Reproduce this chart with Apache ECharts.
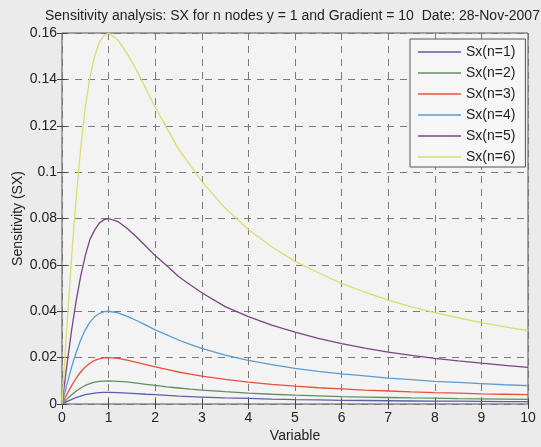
<!DOCTYPE html>
<html><head><meta charset="utf-8">
<script src="https://cdn.jsdelivr.net/npm/echarts@6/dist/echarts.min.js"></script>
<style>html,body{margin:0;padding:0;background:#ebebeb;}#c{width:541px;height:447px;}</style>
</head><body><div id="c"></div>
<script>
var xs  = [0,0.1,0.2,0.3,0.4,0.5,0.6,0.7,0.8,0.9,1,1.2,1.4,1.6,1.8,2,2.25,2.5,2.75,3,3.5,4,4.5,5,5.5,6,6.5,7,7.5,8,8.5,9,9.5,10];
var sx1 = [0,.001,.0019,.0028,.0034,.004,.0044,.0047,.0049,.005,.005,.0049,.0047,.0045,.0042,.004,.0037,.0034,.0032,.003,.0026,.0024,.0021,.0019,.0018,.0016,.0015,.0014,.0013,.0012,.0012,.0011,.0010,.001];
var sx2 = [0,.002,.0039,.0055,.0069,.008,.0088,.0094,.0098,.0099,.01,.0098,.0095,.009,.0085,.008,.0074,.0069,.0064,.006,.0053,.0047,.0042,.0038,.0035,.0032,.003,.0028,.0026,.0025,.0023,.0022,.0021,.002];
var sx3 = [0,.004,.0077,.011,.0138,.016,.0176,.0188,.0195,.0199,.02,.0197,.0189,.018,.017,.016,.0149,.0138,.0129,.012,.0106,.0094,.0085,.0077,.007,.0065,.006,.0056,.0052,.0049,.0047,.0044,.0042,.004];
var sx4 = [0,.008,.0155,.022,.0276,.032,.0353,.0376,.039,.0398,.04,.0393,.0378,.036,.034,.032,.0298,.0276,.0257,.024,.0211,.0188,.017,.0154,.0141,.013,.0121,.0112,.0105,.0098,.0093,.0088,.0083,.0079];
var sx5 = [0,.016,.031,.044,.055,.064,.071,.075,.078,.0795,.08,.0787,.0757,.072,.068,.064,.0596,.055,.0514,.048,.042,.0377,.034,.031,.0283,.026,.0241,.0224,.021,.0197,.0186,.0176,.0167,.0158];
var sx6 = [0,.032,.0615,.088,.110,.128,.141,.150,.156,.159,.16,.157,.151,.144,.136,.128,.119,.110,.103,.096,.0845,.0753,.0678,.0615,.0566,.052,.0482,.0448,.0419,.0394,.0372,.0351,.0333,.0317];
var names = ['Sx(n=1)','Sx(n=2)','Sx(n=3)','Sx(n=4)','Sx(n=5)','Sx(n=6)'];
var colors = ['#5a5fa8','#5e8f5e','#e8503c','#5b9bd0','#7b4482','#dadd72'];
var allY = [sx1,sx2,sx3,sx4,sx5,sx6];

var font = 'Liberation Sans, Arial, sans-serif';
var series = allY.map(function(ys,i){
  return {name:names[i], type:'line', symbol:'none', smooth:false,
    lineStyle:{color:colors[i], width:1.3}, itemStyle:{color:colors[i]},
    data: xs.map(function(x,j){return [x, ys[j]];}), z:3};
});
var chart = echarts.init(document.getElementById('c'));
chart.setOption({
  backgroundColor:'#ebebeb',
  animation:false,
  title:{text:'Sensitivity analysis: SX for n nodes y = 1 and Gradient = 10  Date: 28-Nov-2007',
    left:40, top:4, textStyle:{fontFamily:font, fontSize:14, fontWeight:'normal', color:'#222'}},
  grid:{left:62, right:13, top:33, bottom:43, containLabel:false, outerBoundsMode:'none',
    show:true, backgroundColor:'#f3f3f3', borderColor:'#555', borderWidth:1},
  legend:{orient:'vertical', left:410, top:39, data:names, icon:'rect',
    backgroundColor:'#f6f6f6', borderColor:'#555', borderWidth:1, padding:[6,10,3,8], itemGap:7,
    itemWidth:43, itemHeight:1.5, textStyle:{fontFamily:font, fontSize:14, lineHeight:14, color:'#222'}},
  xAxis:[{type:'value', min:0, max:10, interval:1, name:'Variable', nameLocation:'middle', nameGap:25,
    nameMoveOverlap:false,
    nameTextStyle:{fontFamily:font, fontSize:14, color:'#222'},
    axisLine:{show:false}, axisTick:{inside:true, length:5, lineStyle:{color:'#444'}},
    axisLabel:{fontFamily:font, fontSize:14, color:'#222', margin:7},
    splitLine:{show:true, lineStyle:{color:'#7a7a7a', type:[7,6], width:1}}},
   {type:'value', position:'top', min:0, max:10, interval:1, axisLine:{show:false},
    axisTick:{inside:true, length:5, lineStyle:{color:'#444'}}, axisLabel:{show:false}, splitLine:{show:false}}],
  yAxis:[{type:'value', min:0, max:0.16, interval:0.02, name:'Sensitivity (SX)', nameLocation:'middle', nameGap:37,
    nameMoveOverlap:false,
    nameTextStyle:{fontFamily:font, fontSize:14, color:'#222'},
    axisLine:{show:false}, axisTick:{inside:true, length:5, lineStyle:{color:'#444'}},
    axisLabel:{fontFamily:font, fontSize:14, color:'#222', margin:5, formatter:function(v){return +v.toFixed(2)+'';}},
    splitLine:{show:true, lineStyle:{color:'#7a7a7a', type:[7,6], width:1}}},
   {type:'value', position:'right', min:0, max:0.16, interval:0.02, axisLine:{show:false},
    axisTick:{inside:true, length:5, lineStyle:{color:'#444'}}, axisLabel:{show:false}, splitLine:{show:false}}],
  series: series
});
</script></body></html>
